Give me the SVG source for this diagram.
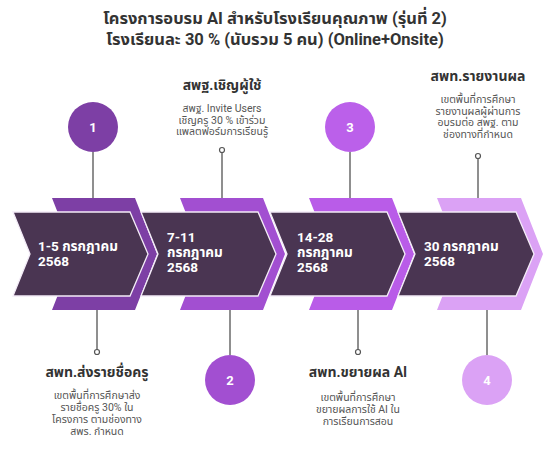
<svg xmlns="http://www.w3.org/2000/svg" width="545" height="450" viewBox="0 0 545 450">
<style>
text{font-family:Roboto,"Noto Sans Thai","Noto Sans","DejaVu Sans",sans-serif}
.ttl{font-size:16.5px;font-weight:bold;fill:#333;text-anchor:middle}
.dark{fill:#4a3552;stroke:#f4ecf8;stroke-width:1.3}
.date{font-size:13.5px;font-weight:bold;fill:#fff}
.num{font-size:13px;font-weight:bold;fill:#fff;text-anchor:middle}
.h{font-size:14px;font-weight:bold;fill:#333;text-anchor:middle}
.b{font-size:10.5px;fill:#555;text-anchor:middle}
.ln{stroke:#6a6a6a;stroke-width:1.5;fill:none}
.dot{fill:#fff;stroke:#555;stroke-width:1.2}
</style>
<rect width="545" height="450" fill="#fff"/>
<g id="title">
<text class="ttl" x="275" y="24">โครงการอบรม AI สำหรับโรงเรียนคุณภาพ (รุ่นที่ 2)</text>
<text class="ttl" x="275" y="45">โรงเรียนละ 30 % (นับรวม 5 คน) (Online+Onsite)</text>
</g>
<g id="connectors">
<line class="ln" x1="93" y1="152" x2="93" y2="198"/>
<line class="ln" x1="97" y1="310" x2="97" y2="350"/>
<circle class="dot" cx="97" cy="352" r="2.5"/>
<line class="ln" x1="222" y1="152" x2="222" y2="198"/>
<circle class="dot" cx="222" cy="150" r="2.5"/>
<line class="ln" x1="230" y1="310" x2="230" y2="355"/>
<line class="ln" x1="350" y1="152" x2="350" y2="198"/>
<line class="ln" x1="358" y1="310" x2="358" y2="350"/>
<circle class="dot" cx="358" cy="352" r="2.5"/>
<line class="ln" x1="478" y1="158" x2="478" y2="198"/>
<circle class="dot" cx="478" cy="156" r="2.5"/>
<line class="ln" x1="487" y1="310" x2="487" y2="355"/>
</g>
<g id="step1">
<polygon fill="#7d3fa5" points="52,198 135,198 157,254 135,310 52,310 74,254"/>
<polygon class="dark" points="13,212 130,212 148,254 130,296 13,296 30,254"/>
<text class="date" x="38" y="251">1-5 กรกฎาคม</text>
<text class="date" x="38" y="266">2568</text>
<circle cx="93" cy="127" r="25" fill="#7d3fa5"/>
<text class="num" x="93" y="132">1</text>
<text class="h" x="97" y="377">สพท.ส่งรายชื่อครู</text>
<text class="b" x="97" y="399">เขตพื้นที่การศึกษาส่ง</text>
<text class="b" x="97" y="411">รายชื่อครู 30% ใน</text>
<text class="b" x="97" y="423">โครงการ ตามช่องทาง</text>
<text class="b" x="97" y="435">สพร. กำหนด</text>
</g>
<g id="step2">
<polygon fill="#a24fd1" points="180,198 263,198 285,254 263,310 180,310 202,254"/>
<polygon class="dark" points="141,212 258,212 276,254 258,296 141,296 158,254"/>
<text class="date" x="167" y="242">7-11</text>
<text class="date" x="167" y="257">กรกฎาคม</text>
<text class="date" x="167" y="272">2568</text>
<circle cx="230" cy="380" r="25" fill="#a24fd1"/>
<text class="num" x="230" y="385">2</text>
<text class="h" x="222" y="90">สพฐ.เชิญผู้ใช้</text>
<text class="b" x="222" y="112">สพฐ. Invite Users</text>
<text class="b" x="222" y="123.5">เชิญครู 30 % เข้าร่วม</text>
<text class="b" x="222" y="135">แพลตฟอร์มการเรียนรู้</text>
</g>
<g id="step3">
<polygon fill="#b95ce8" points="309,198 392,198 414,254 392,310 309,310 331,254"/>
<polygon class="dark" points="270,212 387,212 405,254 387,296 270,296 287,254"/>
<text class="date" x="297" y="242">14-28</text>
<text class="date" x="297" y="257">กรกฎาคม</text>
<text class="date" x="297" y="272">2568</text>
<circle cx="350" cy="127" r="25" fill="#bb60ea"/>
<text class="num" x="350" y="132">3</text>
<text class="h" x="358" y="377">สพท.ขยายผล AI</text>
<text class="b" x="358" y="401">เขตพื้นที่การศึกษา</text>
<text class="b" x="358" y="413">ขยายผลการใช้ AI ใน</text>
<text class="b" x="358" y="425">การเรียนการสอน</text>
</g>
<g id="step4">
<polygon fill="#dba2f5" points="437,198 521,198 543,254 521,310 437,310 459,254"/>
<polygon class="dark" points="398,212 516,212 534,254 516,296 398,296 415,254"/>
<text class="date" x="424" y="251">30 กรกฎาคม</text>
<text class="date" x="424" y="266">2568</text>
<circle cx="487" cy="380" r="25" fill="#dba2f5"/>
<text class="num" x="487" y="385">4</text>
<text class="h" x="478" y="81">สพท.รายงานผล</text>
<text class="b" x="478" y="103">เขตพื้นที่การศึกษา</text>
<text class="b" x="478" y="114.5">รายงานผลผู้ผ่านการ</text>
<text class="b" x="478" y="126">อบรมต่อ สพฐ. ตาม</text>
<text class="b" x="478" y="137.5">ช่องทางที่กำหนด</text>
</g>
</svg>
